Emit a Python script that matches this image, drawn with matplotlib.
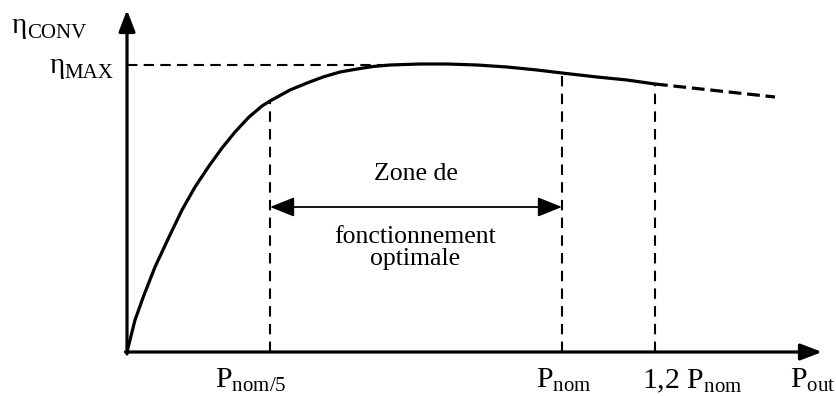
import numpy as np
import matplotlib
matplotlib.use('Agg')
import matplotlib.pyplot as plt

plt.rcParams['font.family'] = ['Liberation Serif', 'DejaVu Serif']
plt.rcParams['mathtext.fontset'] = 'custom'
plt.rcParams['mathtext.rm'] = 'Liberation Serif'
plt.rcParams['mathtext.it'] = 'Liberation Serif:italic'

# courbe de rendement (unites du schema, origine au croisement des axes)
p_out = [0, 8, 17, 28, 42, 55, 68, 82, 95, 108, 122, 135, 143, 163, 180, 196,
         213, 230, 246, 263, 293, 320, 350, 380, 410, 435, 470, 500, 528]
eta = [0, 32, 57, 85, 115, 142, 165, 186, 204, 220, 235, 246, 251, 262, 269, 275,
       280, 283, 285.5, 287, 288, 288, 287, 285, 282, 279, 275, 272, 268]
# prolongement en pointilles au-dela de 1,2 Pnom
p_ext = [528, 588, 648]
eta_ext = [268, 261.5, 255]

eta_max = 287
x_max_line = 273
p_marks = [143, 435, 528]          # Pnom/5, Pnom, 1,2 Pnom
eta_marks = [251, 279, 268]
zone = [143, 435]
zone_y = 145
x_end = 695
y_end = 342

fig = plt.figure(figsize=(8.36, 3.96), dpi=100)
ax = fig.add_axes([0, 0, 1, 1])
ax.set_xlim(-127, 709)
ax.set_ylim(-44, 352)
ax.axis('off')

# axes avec fleches
ax.annotate('', xy=(0, y_end), xytext=(0, -2),
            arrowprops=dict(arrowstyle='-|>,head_length=0.65,head_width=0.25',
                            lw=2.3, color='black', mutation_scale=20,
                            shrinkA=0, shrinkB=0))
ax.annotate('', xy=(x_end, 0), xytext=(-1.5, 0),
            arrowprops=dict(arrowstyle='-|>,head_length=0.65,head_width=0.25',
                            lw=2.3, color='black', mutation_scale=20,
                            shrinkA=0, shrinkB=0))

# courbe
ax.plot(p_out, eta, color='black', lw=2.3, solid_capstyle='round',
        solid_joinstyle='round')
ax.plot(p_ext, eta_ext, color='black', lw=2.3, linestyle=(0, (4, 1.8)))

# niveau max
ax.plot([0, x_max_line], [eta_max, eta_max], color='black', lw=1.5,
        linestyle=(0, (5, 3)))

# verticales
for xm, ym in zip(p_marks, eta_marks):
    ax.plot([xm, xm], [0, ym], color='black', lw=1.5, linestyle=(0, (5, 3.5)))

# zone de fonctionnement
ax.annotate('', xy=(zone[0], zone_y), xytext=(zone[1], zone_y),
            arrowprops=dict(arrowstyle='<|-|>,head_length=0.75,head_width=0.3',
                            lw=1.3, color='black', mutation_scale=20,
                            shrinkA=0, shrinkB=0))
ax.text(289, 178, 'Zone de', fontsize=18.5, ha='center', va='center')
ax.text(288, 109, 'fonctionnement', fontsize=18.5, ha='center', va='baseline')
ax.text(288, 87, 'optimale', fontsize=18.5, ha='center', va='baseline')

# etiquettes de l'axe vertical
ax.text(-115, 319, 'η', fontsize=21, ha='left', va='baseline')
ax.text(-100, 314, 'CONV', fontsize=15, ha='left', va='baseline')
ax.text(-77, 279, 'η', fontsize=21, ha='left', va='baseline')
ax.text(-14, 274, 'MAX', fontsize=15, ha='right', va='baseline')

# etiquettes de l'axe horizontal
ax.text(88, -36, '$\\mathrm{P}_{\\mathrm{nom/5}}$', fontsize=21.5, ha='left', va='baseline')
ax.text(409, -36, '$\\mathrm{P}_{\\mathrm{nom}}$', fontsize=21.5, ha='left', va='baseline')
ax.text(515, -36, '1,2 $\\mathrm{P}_{\\mathrm{nom}}$', fontsize=21.5, ha='left', va='baseline')
ax.text(663, -36, '$\\mathrm{P}_{\\mathrm{out}}$', fontsize=21.5, ha='left', va='baseline')

plt.savefig('out.png', dpi=100)
